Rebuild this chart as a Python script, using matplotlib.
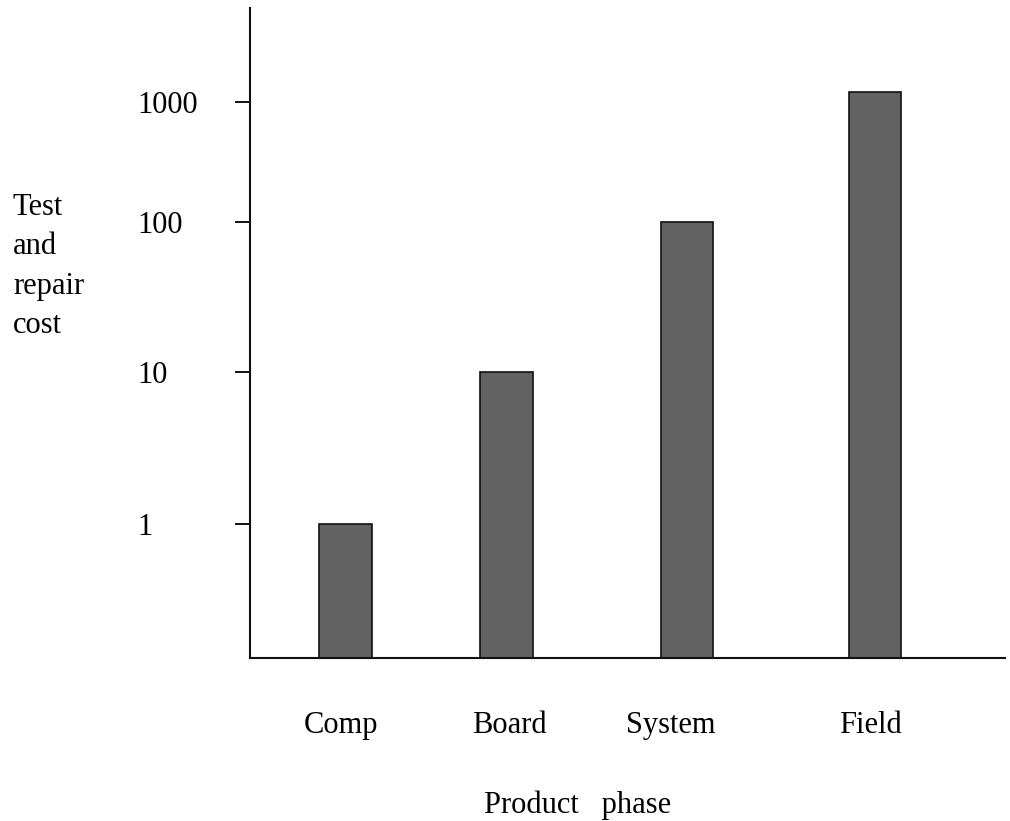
import numpy as np
import matplotlib
matplotlib.use("Agg")
import matplotlib.pyplot as plt

plt.rcParams["font.family"] = ["Liberation Serif", "DejaVu Serif"]

# data
phases = ["Comp", "Board", "System", "Field"]
cost = [1, 10, 100, 1200]
tick_values = [1, 10, 100, 1000]
tick_labels = ["1", "10", "100", "1000"]

# layout (the original axis is hand drawn, decades are not evenly spaced)
bar_pos = [0.0, 1.0, 2.12, 3.29]
label_pos = [-0.03, 1.02, 2.02, 3.26]
LOG_KNOTS = [-1, 0, 1, 2, 3, 4]
HEIGHT_KNOTS = [-18, 134, 286, 436, 556, 676]


def forward(v):
    v = np.log10(np.maximum(np.asarray(v, dtype=float), 1e-6))
    return np.interp(v, LOG_KNOTS, HEIGHT_KNOTS)


def inverse(h):
    return 10 ** np.interp(np.asarray(h, dtype=float), HEIGHT_KNOTS, LOG_KNOTS)


fig = plt.figure(figsize=(10.1, 8.21), dpi=100)
ax = fig.add_axes([250 / 1010, 163 / 821, 755 / 1010, 650 / 821])

ax.set_yscale("function", functions=(forward, inverse))
ylo, yhi = float(inverse(0)), float(inverse(650))
ax.set_ylim(ylo, yhi)
ax.set_xlim(-0.593, 4.097)

ax.bar(bar_pos, np.array(cost) - ylo, bottom=ylo, width=0.326,
       color="#626262", edgecolor="#111111", linewidth=1.2, zorder=2)

ax.set_yticks(tick_values)
ax.set_yticklabels(tick_labels)
ax.yaxis.set_minor_locator(matplotlib.ticker.NullLocator())
ax.tick_params(axis="y", length=11, width=1.3, direction="out",
               labelsize=22, pad=70)
for lab in ax.get_yticklabels():
    lab.set_horizontalalignment("left")

ax.set_xticks(label_pos)
ax.set_xticklabels(phases)
ax.tick_params(axis="x", length=0, labelsize=22, pad=38)

for side in ["top", "right"]:
    ax.spines[side].set_visible(False)
for side in ["left", "bottom"]:
    ax.spines[side].set_linewidth(1.5)
    ax.spines[side].set_color("#111111")

ax.set_xlabel("Product   phase", fontsize=22, va="baseline")
ax.xaxis.set_label_coords(0.434, -0.238)

ax.set_ylabel("Test\nand\nrepair\ncost", fontsize=22, rotation=0,
              ha="left", va="top", linespacing=1.48)
ax.yaxis.set_label_coords(-0.314, 0.716)

fig.savefig("out.png", dpi=100)
